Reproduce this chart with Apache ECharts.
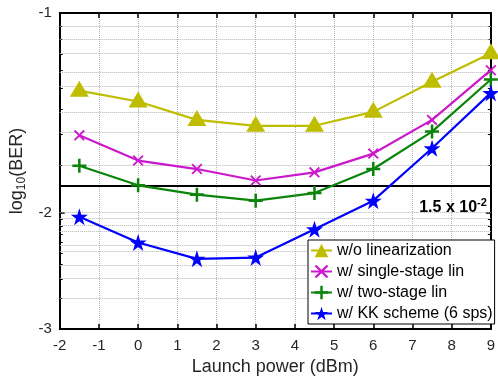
<!DOCTYPE html>
<html><head><meta charset="utf-8">
<script src="https://cdn.jsdelivr.net/npm/echarts@6/dist/echarts.min.js"></script>
<style>html,body{margin:0;padding:0;background:#fff}#c{width:498px;height:381px}</style>
</head><body><div id="c"></div>
<script>
// ---- data ----
const launchPower = [-1.5, 0, 1.5, 3, 4.5, 6, 7.5, 9];
const logBerNoLin = [-1.31, -1.36, -1.45, -1.48, -1.48, -1.41, -1.27, -1.15];
const logBerSingle = [-1.53, -1.67, -1.72, -1.79, -1.74, -1.63, -1.45, -1.22];
const logBerTwo = [-1.70, -1.82, -1.88, -1.92, -1.87, -1.72, -1.51, -1.26];
const logBerKK = [-2.03, -2.22, -2.35, -2.34, -2.12, -1.92, -1.60, -1.32];
const thresholdBer = 1.5e-2;
const yMajorTicks = [-1, -2, -3];
const seriesNames = ['w/o linearization', 'w/ single-stage lin', 'w/ two-stage lin', 'w/ KK scheme (6 sps)'];

// axis is logarithmic in |log10(BER)|
const pos = v => Math.log10(-v);
const majorVals = yMajorTicks.map(pos);
const minorVals = [];
[1, 2].forEach(d => { for (let k = 9; k >= 2; k--) minorVals.push(pos(Math.log10(k * Math.pow(10, -d - 1)))); });
const gridVals = minorVals.concat([pos(-2)]);

function starPath() {
  const p = [];
  for (let i = 0; i < 10; i++) {
    const r = i % 2 ? 19.1 : 50, a = -Math.PI / 2 + i * Math.PI / 5;
    p.push((50 + r * Math.cos(a)).toFixed(2) + ',' + (50 + r * Math.sin(a)).toFixed(2));
  }
  return 'path://M' + p.join('L') + 'Z';
}
const plusPath = 'path://M4.1,0H5.9V4.1H10V5.9H5.9V10H4.1V5.9H0V4.1H4.1Z';
const xPath = 'path://M1.2,0L5,3.8L8.8,0L10,1.2L6.2,5L10,8.8L8.8,10L5,6.2L1.2,10L0,8.8L3.8,5L0,1.2Z';

const FONT = 'Liberation Sans, Arial, sans-serif';
const txt = '#262626';
const gridColor = '#b4b4b4';
const yMin = 0, yMax = Math.log10(3);

const mk = (name, arr, color, symbol, size, extra) => Object.assign({
  name: name, type: 'line', xAxisIndex: 0, yAxisIndex: 0,
  data: launchPower.map((x, i) => [x, pos(arr[i])]),
  symbol: symbol, symbolSize: size, showAllSymbol: true,
  lineStyle: { color: color, width: 2.2 },
  itemStyle: { color: color },
  clip: true, z: 5
}, extra || {});

const yBase = (position, tickVals, len, w, line) => ({
  type: 'value', min: yMin, max: yMax, inverse: true, position: position,
  axisLine: { show: line, onZero: false, lineStyle: { color: '#000', width: 2 } },
  axisTick: { inside: true, length: len, customValues: tickVals, lineStyle: { color: '#000', width: w } },
  axisLabel: { show: false, customValues: tickVals },
  splitLine: { show: false }
});

const chart = echarts.init(document.getElementById('c'), null, { renderer: 'canvas' });
const yAxes = [
  yBase('left', majorVals, 5, 1.5, true),
  yBase('left', gridVals, 3, 1, false),
  yBase('right', majorVals, 5, 1.5, true),
  yBase('right', gridVals, 3, 1, false)
];
Object.assign(yAxes[0], {
  name: '{a|log}{b|10}{a|(BER)}', nameLocation: 'middle', nameGap: 27, nameRotate: 90,
  nameTextStyle: { color: txt, rich: {
    a: { fontSize: 18, color: txt, fontFamily: FONT, lineHeight: 22 },
    b: { fontSize: 12, color: txt, fontFamily: FONT, padding: [9, 0, 0, 0] } } },
  axisLabel: { show: true, customValues: majorVals, fontSize: 15, color: txt, margin: 8, fontFamily: FONT,
    formatter: v => '-' + Math.round(Math.pow(10, v)) }
});

chart.setOption({
  animation: false,
  textStyle: { fontFamily: FONT },
  grid: { left: 56, right: 3, top: 13, bottom: 49, containLabel: false },
  xAxis: [{
    type: 'value', min: -2, max: 9, interval: 1, position: 'bottom',
    name: 'Launch power (dBm)', nameLocation: 'middle', nameGap: 28,
    nameTextStyle: { fontSize: 18, color: txt, fontFamily: FONT },
    axisLine: { show: true, onZero: false, lineStyle: { color: '#000', width: 2 } },
    axisTick: { inside: true, length: 5, lineStyle: { color: '#000', width: 1.5 } },
    axisLabel: { fontSize: 15, color: txt, margin: 9, fontFamily: FONT },
    splitLine: { show: true, lineStyle: { color: gridColor, type: 'dotted', width: 1 } }
  }, {
    type: 'value', min: -2, max: 9, interval: 1, position: 'top',
    axisLine: { show: true, onZero: false, lineStyle: { color: '#000', width: 2 } },
    axisTick: { inside: true, length: 5, lineStyle: { color: '#000', width: 1.5 } },
    axisLabel: { show: false }, splitLine: { show: false }
  }],
  yAxis: yAxes,
  legend: {
    orient: 'vertical', left: 308, top: 240,
    backgroundColor: '#fff', borderColor: '#000', borderWidth: 1,
    padding: [2, 2, 2, 2], itemGap: 4, itemWidth: 21, itemHeight: 17,
    textStyle: { fontSize: 16, color: '#000', fontFamily: FONT, lineHeight: 17 },
    data: seriesNames
  },
  series: [
    {
      name: 'grid', type: 'line', xAxisIndex: 0, yAxisIndex: 0, data: [[-2, 0]],
      symbol: 'none', lineStyle: { opacity: 0 }, silent: true, z: 1,
      markLine: {
        silent: true, symbol: 'none', animation: false, z: 1,
        label: { show: false },
        lineStyle: { color: gridColor, type: 'dotted', width: 1 },
        data: gridVals.map(v => ({ yAxis: v }))
      }
    },
    mk(seriesNames[0], logBerNoLin, '#BFBD00', 'triangle', [19, 16], { symbolOffset: [0, -2],
      markLine: {
        silent: true, symbol: 'none', z: 4,
        lineStyle: { color: '#000', width: 2, type: 'solid' },
        label: { show: true, position: 'insideEndBottom', distance: [4, 12],
          formatter: '{a|1.5 x 10}{b|-2}',
          rich: { a: { fontSize: 16, fontWeight: 'bold', color: '#000', fontFamily: FONT },
                  b: { fontSize: 11, fontWeight: 'bold', color: '#000', fontFamily: FONT, padding: [0, 0, 9, 0] } } },
        data: [{ yAxis: pos(Math.log10(thresholdBer)) }]
      } }),
    mk(seriesNames[1], logBerSingle, '#CC18CC', xPath, 11),
    mk(seriesNames[2], logBerTwo, '#0A850A', plusPath, 14),
    mk(seriesNames[3], logBerKK, '#0000FF', starPath(), 17)
  ]
});
</script>
</body></html>
